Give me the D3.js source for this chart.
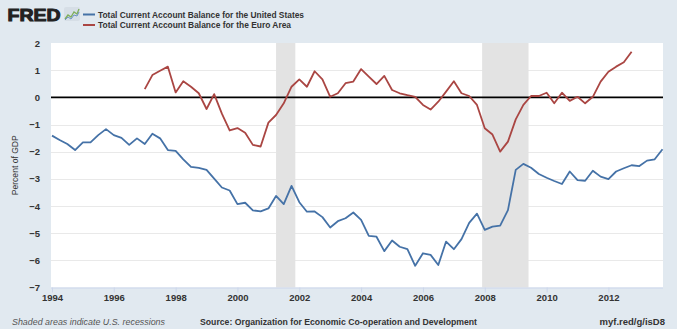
<!DOCTYPE html>
<html><head><meta charset="utf-8">
<script src="https://cdn.jsdelivr.net/npm/d3@7"></script>
<style>
body{margin:0;background:#e1e9f0;}
svg{display:block;font-family:"Liberation Sans",Arial,sans-serif;}
</style>
</head><body>
<svg id="c" width="677" height="329"></svg>
<script>
// ---------------- data ----------------
const seriesNames = ["Total Current Account Balance for the United States",
                     "Total Current Account Balance for the Euro Area"];
const seriesColors = ["#4572a7", "#aa4643"];

// quarterly, starting 1994 Q1
const usStart = "1994-01-01";
const usValues = [
  -1.41, -1.57, -1.72, -1.94, -1.66, -1.66, -1.39, -1.17, -1.39, -1.49,
  -1.75, -1.51, -1.72, -1.34, -1.51, -1.94, -1.97, -2.28, -2.56, -2.60,
  -2.67, -2.99, -3.32, -3.43, -3.93, -3.88, -4.16, -4.20, -4.09, -3.63,
  -3.93, -3.26, -3.86, -4.21, -4.20, -4.41, -4.79, -4.56, -4.45, -4.24,
  -4.51, -5.10, -5.13, -5.66, -5.27, -5.50, -5.59, -6.20, -5.74, -5.80,
  -6.17, -5.31, -5.59, -5.22, -4.62, -4.28, -4.88, -4.76, -4.72, -4.15,
  -2.67, -2.45, -2.59, -2.82, -2.96, -3.08, -3.19, -2.73, -3.05, -3.07,
  -2.70, -2.92, -3.01, -2.73, -2.61, -2.50, -2.53, -2.33, -2.28, -1.91
];

// quarterly, starting 1997 Q1
const euStart = "1997-01-01";
const euValues = [
   0.30,  0.82,  0.98,  1.13,  0.18,  0.59,  0.39,  0.15,
  -0.43,  0.12, -0.60, -1.22, -1.13, -1.30, -1.75, -1.81, -0.93, -0.65,
  -0.22,  0.39,  0.66,  0.39,  0.96,  0.66,  0.02,  0.15,  0.52,  0.58,
   1.04,  0.76,  0.49,  0.79,  0.27,  0.15,  0.08,  0.02, -0.28, -0.45,
  -0.16,  0.21,  0.59,  0.15,  0.05, -0.28, -1.14, -1.37, -2.00, -1.63,
  -0.81, -0.28,  0.05,  0.05,  0.17, -0.22,  0.17, -0.13,  0.02, -0.22,
   0.02,  0.58,  0.94,  1.13,  1.29,  1.68
];

const recessions = [["2001-04-01", "2001-11-15"], ["2007-12-01", "2009-06-01"]];
const yTicks = [2, 1, 0, -1, -2, -3, -4, -5, -6, -7];
const xTickYears = [1994, 1996, 1998, 2000, 2002, 2004, 2006, 2008, 2010, 2012];
const yAxisTitle = "Percent of GDP";
const footerLeft = "Shaded areas indicate U.S. recessions";
const footerSource = "Source: Organization for Economic Co-operation and Development";
const footerUrl = "myf.red/g/isD8";

// ---------------- chart ----------------
const svg = d3.select("#c");
const W = 677, H = 329;
const plot = {left: 51, right: 663, top: 43, bottom: 287.5};
const parse = d3.utcParse("%Y-%m-%d");

function quarterly(start, vals) {
  const s = parse(start);
  return vals.map((v, i) => ({date: d3.utcMonth.offset(s, 3 * i), value: v}));
}
const usData = quarterly(usStart, usValues);
const euData = quarterly(euStart, euValues);

const x = d3.scaleUtc()
  .domain([parse("1994-01-01"), parse("2013-10-01")])
  .range([52, 662.5]);
const y = d3.scaleLinear().domain([-7, 2]).range([plot.bottom, plot.top]);

svg.append("rect").attr("width", W).attr("height", H).attr("fill", "#e1e9f0");
svg.append("rect")
  .attr("x", plot.left).attr("y", plot.top)
  .attr("width", plot.right - plot.left).attr("height", plot.bottom - plot.top)
  .attr("fill", "#ffffff");

// gridlines
svg.append("g").selectAll("line")
  .data(yTicks.filter(d => d !== 0 && d !== 2 && d !== -7))
  .join("line")
  .attr("x1", plot.left).attr("x2", plot.right)
  .attr("y1", d => Math.round(y(d)) + 0.5).attr("y2", d => Math.round(y(d)) + 0.5)
  .attr("stroke", "#e9e9e9").attr("stroke-width", 1.2);

// recession bands
svg.append("g").selectAll("rect")
  .data(recessions)
  .join("rect")
  .attr("x", d => x(parse(d[0])))
  .attr("width", d => x(parse(d[1])) - x(parse(d[0])))
  .attr("y", plot.top).attr("height", plot.bottom - plot.top)
  .attr("fill", "#e3e3e3");

// zero line
svg.append("line")
  .attr("x1", plot.left).attr("x2", plot.right)
  .attr("y1", y(0)).attr("y2", y(0))
  .attr("stroke", "#000").attr("stroke-width", 1.8);

// x axis
const xAxis = d3.axisBottom(x)
  .tickValues(xTickYears.map(yr => new Date(Date.UTC(yr, 0, 1))))
  .tickFormat(d3.utcFormat("%Y"))
  .tickSize(5).tickSizeOuter(0);
const gx = svg.append("g").attr("transform", `translate(0,${plot.bottom})`).call(xAxis);
gx.select(".domain").attr("stroke", "#ccd6eb").attr("d", `M${plot.left},0.5H${plot.right}`);
gx.selectAll(".tick line").attr("stroke", "#ccd6eb");
gx.selectAll(".tick text")
  .attr("y", 6.5).attr("dy", "0.71em")
  .attr("font-size", 9.5).attr("fill", "#333").attr("font-weight", "bold")
  .attr("font-family", "'Liberation Sans', Arial, sans-serif");

// y axis labels
const yAxis = d3.axisLeft(y).tickValues(yTicks).tickSize(0).tickPadding(0).tickFormat(d3.format("d"));
const gy = svg.append("g").attr("transform", `translate(40,0)`).call(yAxis);
gy.select(".domain").remove();
gy.selectAll(".tick text")
  .attr("font-size", 9.5).attr("fill", "#333").attr("font-weight", "bold")
  .attr("font-family", "'Liberation Sans', Arial, sans-serif");

// y title
svg.append("text")
  .attr("transform", `translate(18,${(plot.top + plot.bottom) / 2}) rotate(-90)`)
  .attr("text-anchor", "middle")
  .attr("font-size", 9.5).attr("fill", "#333")
  .attr("textLength", 60).attr("lengthAdjust", "spacingAndGlyphs")
  .text(yAxisTitle);

// lines
const line = d3.line().x(d => x(d.date)).y(d => y(d.value));
[usData, euData].forEach((data, i) => {
  svg.append("path").datum(data)
    .attr("d", line)
    .attr("fill", "none")
    .attr("stroke", seriesColors[i])
    .attr("stroke-width", 1.8)
    .attr("stroke-linejoin", "round");
});

// header: FRED logo
svg.append("text")
  .attr("x", 7.5).attr("y", 21)
  .attr("font-size", 16.5).attr("font-weight", "bold")
  .attr("fill", "#222").attr("stroke", "#222").attr("stroke-width", 1)
  .attr("textLength", 53).attr("lengthAdjust", "spacingAndGlyphs")
  .text("FRED");
const icon = svg.append("g").attr("transform", "translate(64,7)");
icon.append("rect").attr("width", 16).attr("height", 14).attr("rx", 2).attr("fill", "#d6dee6");
icon.append("polyline")
  .attr("points", "1,12 4,8 7,10 10,5 13,7 15,2")
  .attr("fill", "none").attr("stroke", "#7fae5a").attr("stroke-width", 1.3);
icon.append("polyline")
  .attr("points", "1,13 4,10 7,12 10,8 13,9 15,5")
  .attr("fill", "none").attr("stroke", "#6d93c4").attr("stroke-width", 1);

// legend
const legendWidths = [206, 193];
seriesNames.forEach((name, i) => {
  const ly = 14.5 + i * 10.5;
  svg.append("line")
    .attr("x1", 83).attr("x2", 95).attr("y1", ly).attr("y2", ly)
    .attr("stroke", seriesColors[i]).attr("stroke-width", 2);
  svg.append("text")
    .attr("x", 98).attr("y", ly).attr("dy", "0.35em")
    .attr("font-size", 9.5).attr("font-weight", "bold").attr("fill", "#333")
    .attr("textLength", legendWidths[i]).attr("lengthAdjust", "spacingAndGlyphs")
    .text(name);
});

// footer
svg.append("text")
  .attr("x", 12).attr("y", 324.5)
  .attr("font-size", 9).attr("font-style", "italic").attr("fill", "#555")
  .attr("textLength", 153).attr("lengthAdjust", "spacingAndGlyphs")
  .text(footerLeft);
svg.append("text")
  .attr("x", 200).attr("y", 324.5)
  .attr("font-size", 9.5).attr("font-weight", "bold").attr("fill", "#333")
  .attr("textLength", 277).attr("lengthAdjust", "spacingAndGlyphs")
  .text(footerSource);
svg.append("text")
  .attr("x", 665).attr("y", 324.5).attr("text-anchor", "end")
  .attr("font-size", 9.5).attr("font-weight", "bold").attr("fill", "#333")
  .text(footerUrl);
</script>
</body></html>
